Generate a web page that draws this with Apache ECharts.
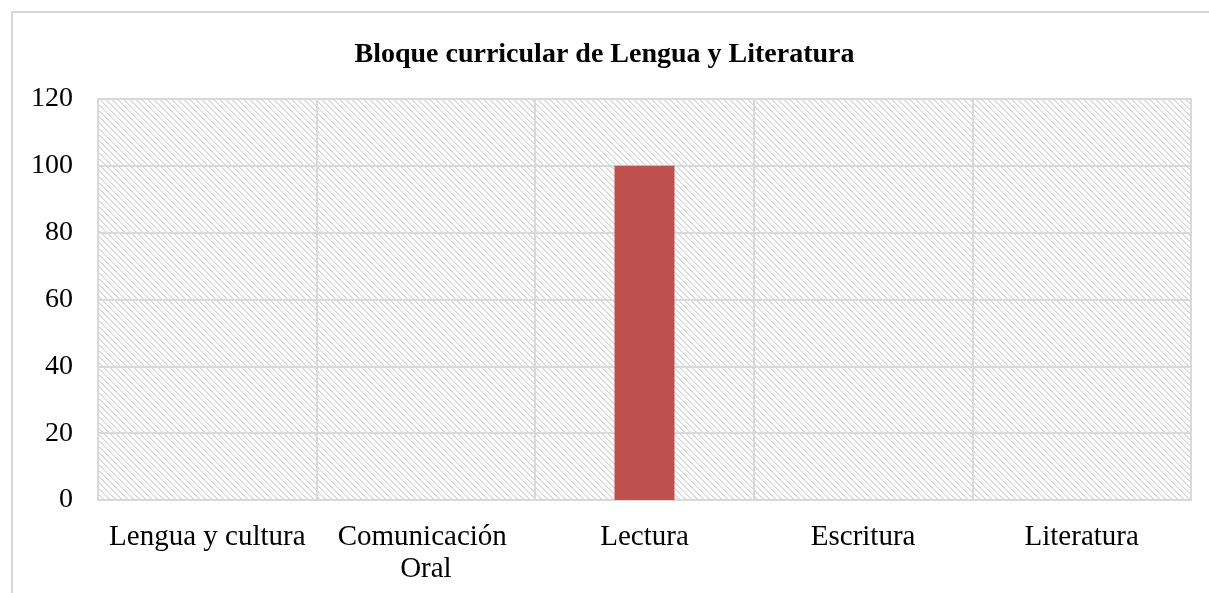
<!DOCTYPE html>
<html>
<head>
<meta charset="utf-8">
<script src="https://cdn.jsdelivr.net/npm/echarts@6/dist/echarts.min.js"></script>
<style>
  html, body { margin: 0; padding: 0; background: #fff; }
  #frame {
    position: absolute; left: 11px; top: 11px; width: 1300px; height: 700px;
    border: 2px solid #d9d9d9; box-sizing: border-box;
  }
  #chart { position: absolute; left: 0; top: 0; width: 1209px; height: 593px; }
</style>
</head>
<body>
<div id="frame"></div>
<div id="chart"></div>
<script>
const categories = ['Lengua y cultura', 'Comunicación Oral', 'Lectura', 'Escritura', 'Literatura']
const values = [0, 0, 100, 0, 0]
const yTicks = { min: 0, max: 120, interval: 20 }

// diagonal hatch used as plot background
function hatch() {
  const c = document.createElement('canvas')
  c.width = 6
  c.height = 6
  const ctx = c.getContext('2d')
  ctx.fillStyle = '#ffffff'
  ctx.fillRect(0, 0, 6, 6)
  for (let y = 0; y < 6; y++) {
    ctx.fillStyle = '#d4d4d4'
    ctx.fillRect(y % 6, y, 1, 1)
    ctx.fillStyle = '#e6e6e6'
    ctx.fillRect((y + 1) % 6, y, 1, 1)
  }
  return c
}

const font = "'Liberation Serif', 'Times New Roman', serif"
const chart = echarts.init(document.getElementById('chart'))

chart.setOption({
  animation: false,
  backgroundColor: 'transparent',
  title: {
    text: 'Bloque curricular de Lengua y Literatura',
    left: 'center',
    top: 36,
    textStyle: { fontFamily: font, fontSize: 28, fontWeight: 'bold', color: '#000' }
  },
  grid: {
    left: 98,
    right: 18,
    top: 99,
    bottom: 93,
    show: true,
    backgroundColor: { image: hatch(), repeat: 'repeat' },
    borderColor: '#d9d9d9',
    borderWidth: 2
  },
  xAxis: {
    type: 'category',
    data: categories,
    axisTick: { show: false },
    axisLine: { lineStyle: { color: '#d9d9d9', width: 2 } },
    splitLine: { show: true, interval: 0, lineStyle: { color: '#d9d9d9', width: 2 } },
    axisLabel: {
      interval: 0,
      margin: 21,
      color: '#000',
      fontFamily: font,
      fontSize: 29,
      lineHeight: 32,
      width: 205,
      overflow: 'break'
    }
  },
  yAxis: {
    type: 'value',
    min: yTicks.min,
    max: yTicks.max,
    interval: yTicks.interval,
    axisLine: { show: false },
    axisTick: { show: false },
    splitLine: { lineStyle: { color: '#d9d9d9', width: 2 } },
    axisLabel: { margin: 25, color: '#000', fontFamily: font, fontSize: 28, padding: [4, 0, 0, 0] }
  },
  series: [
    {
      type: 'bar',
      data: values,
      barWidth: 60,
      itemStyle: { color: '#c0504d' }
    }
  ]
})
</script>
</body>
</html>
